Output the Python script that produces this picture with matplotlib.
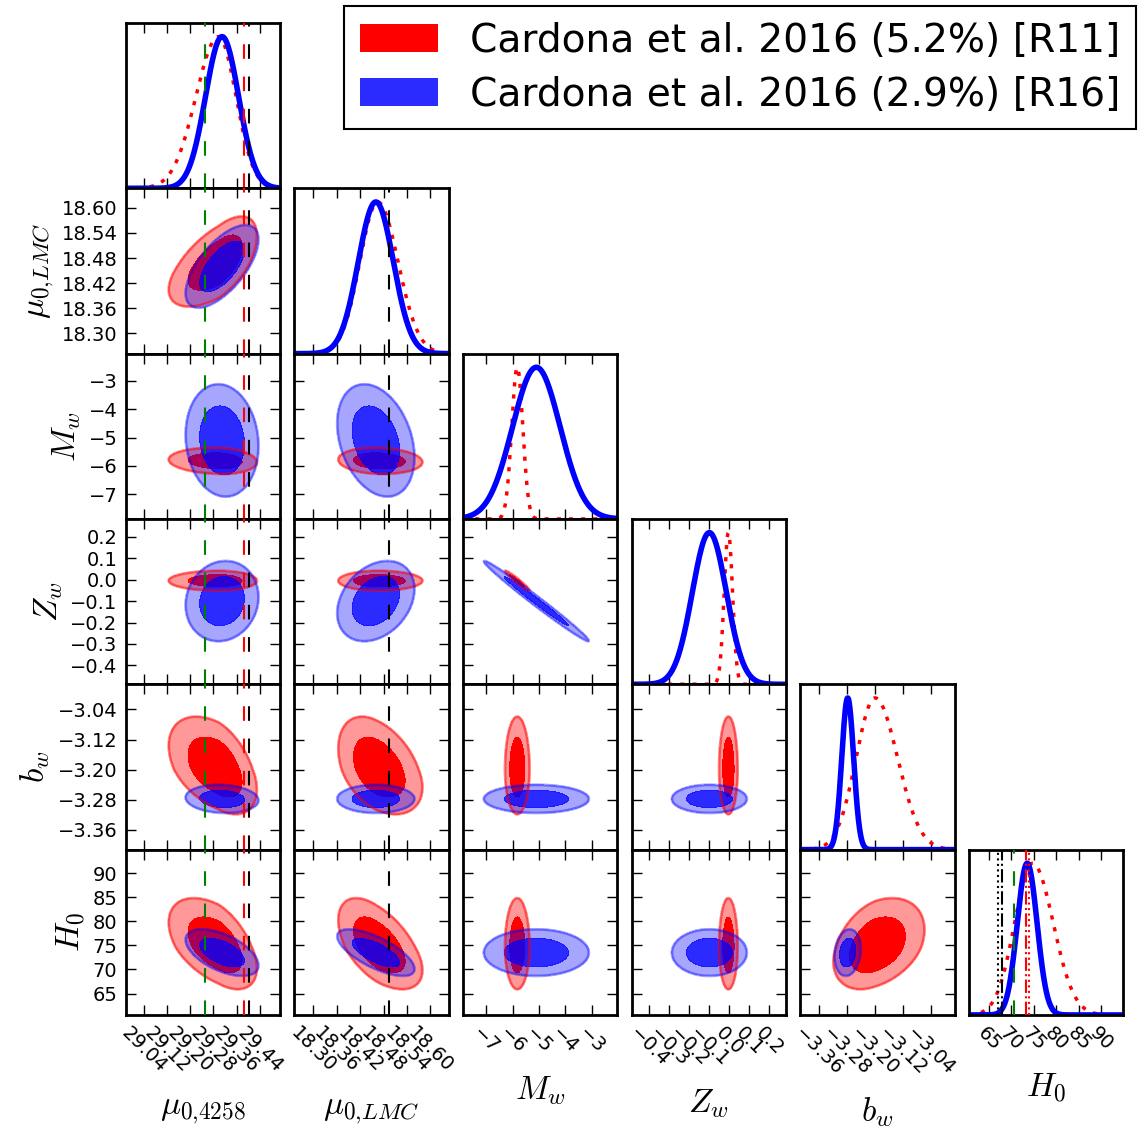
import numpy as np
import matplotlib
matplotlib.use('Agg')
import matplotlib.pyplot as plt
from matplotlib.patches import Patch

plt.rcParams['mathtext.fontset'] = 'cm'
plt.rcParams['font.family'] = ['DejaVu Sans']

# Parameter names and plotting ranges
param_labels = [r'$\mu_{0{,}4258}$', r'$\mu_{0{,}LMC}$', r'$M_w$', r'$Z_w$', r'$b_w$', r'$H_0$']
range_lo = [28.978, 18.251, -7.868, -0.488, -3.413, 60.55]
range_hi = [29.510, 18.647, -2.040, 0.283, -2.973, 94.90]

# Tick positions / labels for each parameter
tick_vals = [
    [29.04, 29.12, 29.20, 29.28, 29.36, 29.44],
    [18.30, 18.36, 18.42, 18.48, 18.54, 18.60],
    [-7, -6, -5, -4, -3],
    [-0.4, -0.3, -0.2, -0.1, 0.0, 0.1, 0.2],
    [-3.36, -3.28, -3.20, -3.12, -3.04],
    [65, 70, 75, 80, 85, 90],
]
tick_text = [
    ['29.04', '29.12', '29.20', '29.28', '29.36', '29.44'],
    ['18.30', '18.36', '18.42', '18.48', '18.54', '18.60'],
    ['\u22127', '\u22126', '\u22125', '\u22124', '\u22123'],
    ['\u22120.4', '\u22120.3', '\u22120.2', '\u22120.1', '0.0', '0.1', '0.2'],
    ['\u22123.36', '\u22123.28', '\u22123.20', '\u22123.12', '\u22123.04'],
    ['65', '70', '75', '80', '85', '90'],
]

# Posterior summaries
# R16 (blue): mean and width
r16_mean = [29.310, 18.460, -5.10, -0.100, -3.278, 73.5]
r16_sigma = [0.057, 0.045, 0.90, 0.085, 0.017, 2.2]
# R11 (red): mean, lower and upper width (skewed marginals)
r11_mean = [29.298, 18.465, -5.82, -0.005, -3.200, 74.7]
r11_sig_lo = [0.078, 0.046, 0.21, 0.021, 0.054, 4.0]
r11_sig_hi = [0.060, 0.052, 0.21, 0.021, 0.064, 4.6]

# Correlation coefficients, rho[row][col] for col < row
r16_rho = [
    [],
    [0.65],
    [-0.10, -0.30],
    [0.10, 0.30, -0.99],
    [-0.10, 0.00, 0.00, 0.00],
    [-0.55, -0.70, 0.00, 0.00, 0.15],
]
r11_rho = [
    [],
    [0.60],
    [-0.10, -0.10],
    [0.00, 0.00, -0.97],
    [-0.45, -0.40, 0.00, 0.00],
    [-0.50, -0.55, 0.00, 0.00, 0.35],
]

# Reference values (vertical lines): column, value
ref_col = [0, 0, 0, 1, 5, 5, 5, 5, 5]
ref_val = [29.250, 29.387, 29.404, 18.493, 66.93, 67.80, 70.50, 73.24, 73.80]
ref_color = ['green', 'red', 'black', 'black', 'black', 'black', 'green', 'red', 'red']
ref_style = ['--', '--', '--', '--', ':', '-.', '--', '-.', ':']

legend_labels = ['Cardona et al. 2016 (5.2%) [R11]', 'Cardona et al. 2016 (2.9%) [R16]']

K_IN, K_OUT = 1.35, 2.2
red_in = (1, 0, 0, 1.0)
red_out = (1, 0, 0, 0.4)
red_edge = (1, 0, 0, 0.5)
blue_in = (0, 0, 1, 0.83)
blue_out = (0, 0, 1, 0.35)
blue_edge = (0, 0, 1, 0.4)


def std_units(x, m, s_lo, s_hi):
    # split-normal standardisation
    return np.where(x < m, (x - m) / s_lo, (x - m) / s_hi)


def draw_2d(ax, j, i, mean, s_lo, s_hi, rho, cin, cout, cedge):
    x = np.linspace(range_lo[j], range_hi[j], 300)
    y = np.linspace(range_lo[i], range_hi[i], 300)
    X, Y = np.meshgrid(x, y)
    u = std_units(X, mean[j], s_lo[j], s_hi[j])
    v = std_units(Y, mean[i], s_lo[i], s_hi[i])
    d2 = (u**2 - 2 * rho * u * v + v**2) / (1 - rho**2)
    ax.contourf(X, Y, d2, levels=[0, K_IN**2, K_OUT**2], colors=[cin, cout])
    ax.contour(X, Y, d2, levels=[K_OUT**2], colors=[cedge], linewidths=2)


fig = plt.figure(figsize=(11.43, 11.31), dpi=100)
axes = fig.subplots(6, 6, gridspec_kw=dict(left=0.110, right=0.9828, top=0.9797,
                                           bottom=0.1026, wspace=0.0927, hspace=0))

for i in range(6):
    for j in range(6):
        ax = axes[i, j]
        if j > i:
            ax.set_visible(False)
            continue
        for sp in ax.spines.values():
            sp.set_linewidth(2)
        ax.set_xlim(range_lo[j], range_hi[j])
        ax.set_xticks(tick_vals[j])
        if i == 5:
            ax.set_xticklabels(tick_text[j], rotation=-45)
            ax.set_xlabel(param_labels[j], fontsize=24, labelpad=12)
        else:
            ax.set_xticklabels([])
        ax.tick_params(direction='in', top=True, right=True, length=7, width=1,
                       labelsize=14, pad=6)

        if i == j:
            x = np.linspace(range_lo[j], range_hi[j], 400)
            u_red = std_units(x, r11_mean[j], r11_sig_lo[j], r11_sig_hi[j])
            u_blue = (x - r16_mean[j]) / r16_sigma[j]
            ax.plot(x, np.exp(-0.5 * u_red**2), color='red', lw=2.5,
                    linestyle=(0, (1.2, 2.3)))
            ax.plot(x, np.exp(-0.5 * u_blue**2), color='blue', lw=4)
            ax.set_ylim(0, 1.09)
            ax.set_yticks([])
            ax.tick_params(left=False, right=False)
        else:
            draw_2d(ax, j, i, r11_mean, r11_sig_lo, r11_sig_hi, r11_rho[i][j],
                    red_in, red_out, red_edge)
            draw_2d(ax, j, i, r16_mean, r16_sigma, r16_sigma, r16_rho[i][j],
                    blue_in, blue_out, blue_edge)
            ax.set_ylim(range_lo[i], range_hi[i])
            ax.set_yticks(tick_vals[i])
            if j == 0:
                ax.set_yticklabels(tick_text[i])
                ax.set_ylabel(param_labels[i], fontsize=24)
            else:
                ax.set_yticklabels([])

        # reference lines
        for c, v, col, ls in zip(ref_col, ref_val, ref_color, ref_style):
            if c == j:
                line = ax.axvline(v, color=col, lw=1.5, zorder=5)
                if ls == '--':
                    line.set_dashes((7, 8.5))
                else:
                    line.set_linestyle(ls)

handles = [Patch(facecolor=red_in, edgecolor='none'), Patch(facecolor=blue_in, edgecolor='none')]
leg = fig.legend(handles, legend_labels, loc='upper right', bbox_to_anchor=(0.9935, 0.9945),
                 fontsize=28.2, fancybox=False, framealpha=1, edgecolor='black',
                 borderpad=0.4, handlelength=2.0, handleheight=0.7,
                 handletextpad=0.8, labelspacing=0.4, borderaxespad=0)
leg.get_frame().set_linewidth(1.5)

fig.savefig('out.png', dpi=100)
